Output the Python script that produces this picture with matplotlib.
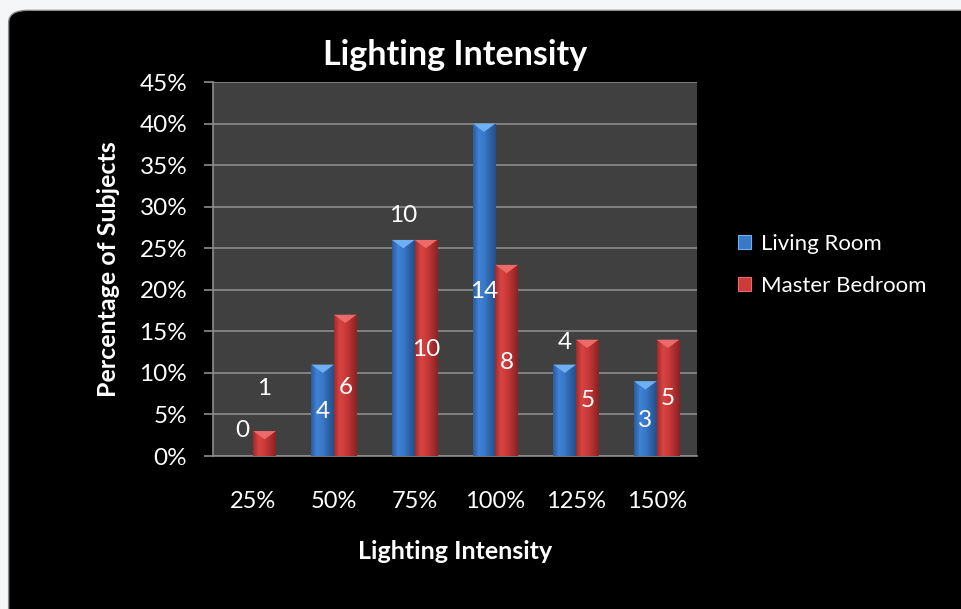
import numpy as np
import matplotlib.pyplot as plt
from matplotlib.patches import FancyBboxPatch, Polygon, Rectangle
from matplotlib.colors import LinearSegmentedColormap

plt.rcParams['font.family'] = ['Lato', 'DejaVu Sans']

categories = ['25%', '50%', '75%', '100%', '125%', '150%']
living_pct = [0, 11, 26, 40, 11, 9]
master_pct = [3, 17, 26, 23, 14, 14]
living_counts = [0, 4, 10, 14, 4, 3]
master_counts = [1, 6, 10, 8, 5, 5]
# where the data labels sit (in % units), as placed in the original
living_label_y = [3.1, 5.3, 29.0, 19.8, 13.6, 4.3]
master_label_y = [8.1, 8.3, 12.8, 11.2, 6.7, 6.9]

fig = plt.figure(figsize=(9.61, 6.09), dpi=100, facecolor='#f4f6f8')
# black rounded chart area
fig.patches.append(FancyBboxPatch((0.009, -0.05), 1.05, 1.033,
                                  boxstyle='round,pad=0,rounding_size=0.02',
                                  transform=fig.transFigure, facecolor='black',
                                  edgecolor='#888888', linewidth=1.0, zorder=-10))

ax = fig.add_axes([0.2216, 0.2512, 0.5037, 0.6141])
ax.set_facecolor('#404040')

x = np.arange(len(categories))
w = 0.28

blue_cmap = LinearSegmentedColormap.from_list('b', ['#2c5c9c', '#3f82d6', '#3a78c8', '#2e63a8', '#24508a'])
red_cmap = LinearSegmentedColormap.from_list('r', ['#a02a2a', '#d84444', '#cc3a3a', '#ad2e2e', '#8c2222'])
grad = np.linspace(0, 1, 64).reshape(1, -1)


def draw_bar(xc, h, cmap, top_col):
    if h <= 0:
        return
    x0, x1 = xc - w / 2, xc + w / 2
    rect = Rectangle((x0, 0), w, h, facecolor='none', edgecolor='none')
    ax.add_patch(rect)
    im = ax.imshow(grad, cmap=cmap, extent=(x0, x1, 0, h), aspect='auto',
                   zorder=3, interpolation='bilinear')
    im.set_clip_path(rect)
    tri = Polygon([(x0, h), (x1, h), (xc, h - 1.0)], closed=True,
                  facecolor=top_col, edgecolor='none', zorder=4)
    ax.add_patch(tri)


for i in range(len(categories)):
    draw_bar(x[i] - w / 2, living_pct[i], blue_cmap, '#6fb0f2')
    draw_bar(x[i] + w / 2, master_pct[i], red_cmap, '#ec6a6a')

for i in range(len(categories)):
    ax.text(x[i] - w / 2, living_label_y[i], str(living_counts[i]), color='white',
            fontsize=17.5, ha='center', va='center', zorder=6)
    ax.text(x[i] + w / 2, master_label_y[i], str(master_counts[i]), color='white',
            fontsize=17.5, ha='center', va='center', zorder=6)

ax.set_xlim(-0.5, len(categories) - 0.5)
ax.set_ylim(0, 45)
ax.set_yticks(np.arange(0, 46, 5))
ax.set_yticklabels([f'{v}%' for v in range(0, 46, 5)])
ax.set_xticks(x)
ax.set_xticklabels(categories)
ax.grid(axis='y', color='#8c8c8c', linewidth=1.2, zorder=1)
ax.set_axisbelow(True)

for s in ['top', 'right']:
    ax.spines[s].set_visible(False)
for s in ['left', 'bottom']:
    ax.spines[s].set_color('#8c8c8c')
    ax.spines[s].set_linewidth(1.2)

ax.tick_params(axis='y', colors='#8c8c8c', labelcolor='white', labelsize=17.5,
               length=6.5, width=1.2, pad=12)
ax.tick_params(axis='x', length=0, labelcolor='white', labelsize=17, pad=25)

ax.set_title('Lighting Intensity', color='white', fontsize=24.5, fontweight='bold', pad=12)
ax.set_xlabel('Lighting Intensity', color='white', fontsize=18, fontweight='bold', labelpad=20)
ax.set_ylabel('Percentage of Subjects', color='white', fontsize=18, fontweight='bold', labelpad=14)

# legend
handles = [Rectangle((0, 0), 1, 1, facecolor='#3a78c8', edgecolor='#6fb0f2', linewidth=0.8),
           Rectangle((0, 0), 1, 1, facecolor='#cc3a3a', edgecolor='#ec6a6a', linewidth=0.8)]
leg = fig.legend(handles, ['Living Room', 'Master Bedroom'], loc='center left',
                 bbox_to_anchor=(0.747, 0.565), frameon=False, fontsize=16,
                 labelcolor='white', handlelength=0.6, handleheight=0.6,
                 handletextpad=0.45, labelspacing=1.0)

fig.savefig('out.png', dpi=100, facecolor=fig.get_facecolor())
